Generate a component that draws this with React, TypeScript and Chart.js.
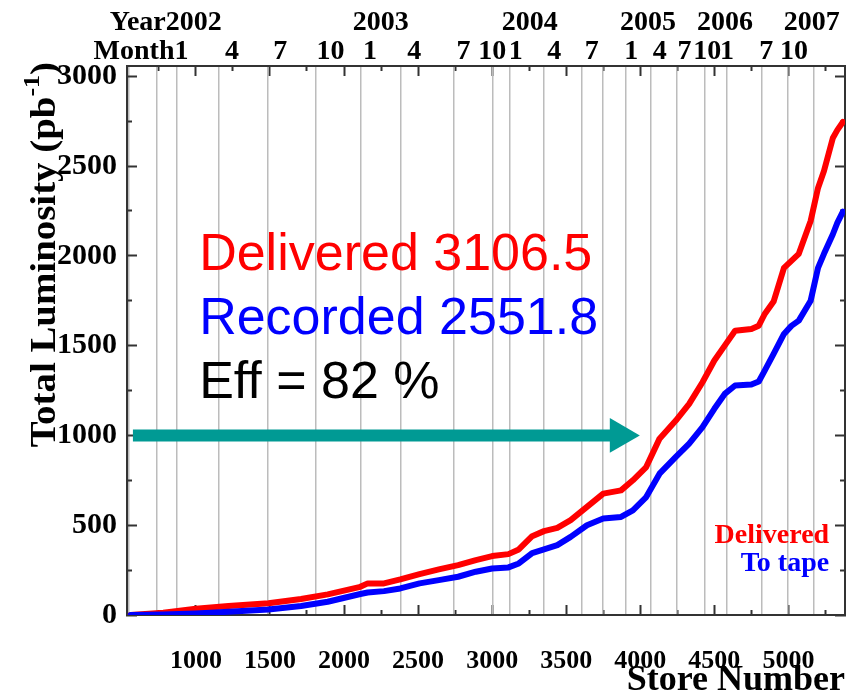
import React, { useEffect, useRef } from 'react';
import { Chart, registerables } from 'chart.js';

Chart.register(...registerables);

// ---- axis ranges ----
const X_MIN = 535;
const X_MAX = 5382;
const Y_MIN = 0;
const Y_MAX = 3057;

// ---- series (store number vs integrated luminosity, pb^-1) ----
const storeNumber = [560, 780, 1000, 1220, 1490, 1710, 1890, 2110, 2160, 2270, 2380, 2510, 2640, 2770, 2890, 3000, 3110, 3180, 3270, 3350, 3440, 3530, 3640, 3750, 3870, 3950, 4040, 4130, 4240, 4330, 4420, 4500, 4570, 4640, 4750, 4800, 4840, 4900, 4970, 5020, 5070, 5150, 5200, 5240, 5300, 5330, 5368];
const deliveredLum = [0, 13, 35, 50, 65, 89, 115, 157, 176, 176, 198, 228, 254, 278, 306, 328, 339, 365, 439, 467, 485, 528, 602, 676, 694, 750, 824, 982, 1083, 1176, 1296, 1417, 1500, 1583, 1593, 1611, 1676, 1745, 1933, 1972, 2011, 2194, 2378, 2472, 2656, 2700, 2745];
const recordedLum = [0, 3, 9, 18, 31, 50, 74, 117, 125, 133, 148, 176, 194, 213, 241, 259, 265, 287, 345, 365, 389, 435, 500, 537, 546, 583, 657, 787, 880, 954, 1046, 1148, 1231, 1278, 1283, 1300, 1361, 1454, 1565, 1610, 1639, 1750, 1933, 2011, 2120, 2183, 2246];

// ---- ticks ----
const xMajorTicks = [1000, 1500, 2000, 2500, 3000, 3500, 4000, 4500, 5000];
const xMinorTicks = [750, 1250, 1750, 2250, 2750, 3250, 3750, 4250, 4750, 5250];
const yMajorTicks = [0, 500, 1000, 1500, 2000, 2500, 3000];
const yMinorTicks = [250, 750, 1250, 1750, 2250, 2750];

// ---- calendar axis (top) ----
const monthGridStores = [550, 737, 870, 1156, 1482, 1809, 2115, 2381, 2741, 3007, 3120, 3347, 3607, 3746, 3899, 4072, 4245, 4438, 4585, 4818, 4998, 5171];
const monthLabels = ['Month1', '4', '7', '10', '1', '4', '7', '10', '1', '4', '7', '1', '4', '7', '10', '1', '7', '10'];
const monthStores = [630, 1243, 1569, 1909, 2175, 2474, 2807, 3000, 3160, 3420, 3673, 3939, 4132, 4299, 4452, 4585, 4851, 5038];
const yearLabels = ['Year2002', '2003', '2004', '2005', '2006', '2007'];
const yearStores = [797, 2248, 3253, 4052, 4572, 5158];

// ---- annotations ----
const arrowStore = [575, 3862];
const arrowLum = [1000, 1000];
const summaryLines = ['Delivered 3106.5', 'Recorded 2551.8', 'Eff = 82 %'];
const summaryColors = ['#ff0000', '#0000ff', '#000000'];
const summaryAnchor = [1022, 1921];
const legendLabels = ['Delivered', 'To tape'];
const legendColors = ['#ff0000', '#0000ff'];
const legendAnchor = [5275, 401];
const yTitleMain = 'Total Luminosity (pb';
const yTitleSup = '-1';
const yTitleClose = ')';

const SERIF = "'Liberation Serif', 'Times New Roman', serif";
const SANS = "'Liberation Sans', Arial, sans-serif";
const FRAME = '#333333';
const TEAL = '#009a94';

const fixTicks = (values: number[]) => (scale: any) => {
  scale.ticks = values.map((v) => ({ value: v }));
};

const overlayPlugin = {
  id: 'overlay',
  afterDatasetsDraw(chart: any) {
    const { ctx, scales } = chart;
    const x = scales.x;
    const y = scales.y;
    ctx.save();
    // summary text
    ctx.font = `52px ${SANS}`;
    ctx.textAlign = 'left';
    ctx.textBaseline = 'alphabetic';
    const sx = x.getPixelForValue(summaryAnchor[0]);
    const sy = y.getPixelForValue(summaryAnchor[1]);
    summaryLines.forEach((t, i) => {
      ctx.fillStyle = summaryColors[i];
      ctx.fillText(t, sx, sy + i * 64);
    });
    // in-plot legend
    ctx.font = `bold 28px ${SERIF}`;
    ctx.textAlign = 'right';
    const lx = x.getPixelForValue(legendAnchor[0]);
    const ly = y.getPixelForValue(legendAnchor[1]);
    legendLabels.forEach((t, i) => {
      ctx.fillStyle = legendColors[i];
      ctx.fillText(t, lx, ly + i * 28);
    });
    ctx.restore();
  },
  afterDraw(chart: any) {
    // y-axis title with a superscript, aligned to the top of the axis
    const { ctx, chartArea } = chart;
    ctx.save();
    ctx.font = `bold 36px ${SERIF}`;
    const w1 = ctx.measureText(yTitleMain).width;
    const w3 = ctx.measureText(yTitleClose).width;
    ctx.font = `bold 24px ${SERIF}`;
    const w2 = ctx.measureText(yTitleSup).width;
    const total = w1 + w2 + w3;
    const stretch = 1.08;
    const endY = chartArea.top - 4;
    ctx.translate(55, endY + total * stretch);
    ctx.rotate(-Math.PI / 2);
    ctx.scale(stretch, 1);
    ctx.fillStyle = '#000';
    ctx.textAlign = 'left';
    ctx.textBaseline = 'alphabetic';
    ctx.font = `bold 36px ${SERIF}`;
    ctx.fillText(yTitleMain, 0, 0);
    ctx.font = `bold 24px ${SERIF}`;
    ctx.fillText(yTitleSup, w1, -16);
    ctx.font = `bold 36px ${SERIF}`;
    ctx.fillText(yTitleClose, w1 + w2, 0);
    ctx.restore();
  },
};

export default function App() {
  const ref = useRef<HTMLCanvasElement>(null);

  useEffect(() => {
    if (!ref.current) return;
    const hidden = { display: false };
    const chart = new Chart(ref.current, {
      type: 'line',
      data: {
        datasets: [
          {
            label: 'Delivered',
            data: storeNumber.map((s, i) => ({ x: s, y: deliveredLum[i] })),
            borderColor: '#ff0000',
            backgroundColor: '#ff0000',
            borderWidth: 6,
            pointRadius: 0,
            tension: 0,
            borderJoinStyle: 'round',
            borderCapStyle: 'round',
            order: 2,
          },
          {
            label: 'To tape',
            data: storeNumber.map((s, i) => ({ x: s, y: recordedLum[i] })),
            borderColor: '#0000ff',
            backgroundColor: '#0000ff',
            borderWidth: 6,
            pointRadius: 0,
            tension: 0,
            borderJoinStyle: 'round',
            borderCapStyle: 'round',
            order: 1,
          },
          {
            label: 'arrow',
            data: arrowStore.map((s, i) => ({ x: s, y: arrowLum[i] })),
            borderColor: TEAL,
            backgroundColor: TEAL,
            borderWidth: 12,
            borderCapStyle: 'butt',
            pointRadius: [0, 20],
            pointHoverRadius: [0, 20],
            pointStyle: 'triangle',
            pointRotation: 90,
            pointBackgroundColor: TEAL,
            pointBorderColor: TEAL,
            pointBorderWidth: 0,
            tension: 0,
            order: 0,
          } as any,
        ],
      },
      options: {
        responsive: false,
        animation: false,
        devicePixelRatio: 1,
        events: [],
        layout: { padding: 0 },
        plugins: { legend: hidden, tooltip: { enabled: false }, title: hidden },
        scales: {
          x: {
            type: 'linear',
            position: 'bottom',
            weight: 1,
            min: X_MIN,
            max: X_MAX,
            afterBuildTicks: fixTicks(xMajorTicks),
            afterFit: (s: any) => { s.height = 79; },
            grid: { drawOnChartArea: false, tickLength: -10, tickWidth: 2, tickColor: FRAME },
            border: { display: true, color: FRAME, width: 2 },
            ticks: {
              autoSkip: false,
              maxRotation: 0,
              padding: 43,
              color: '#000',
              font: { family: SERIF, size: 26, weight: 'bold', lineHeight: 1 },
              callback: (v: any) => String(v),
            },
            title: {
              display: true,
              text: 'Store Number',
              align: 'end',
              color: '#000',
              font: { family: SERIF, size: 36, weight: 'bold', lineHeight: 1 },
              padding: { top: 0, bottom: -5 },
            },
          },
          xMinor: {
            type: 'linear',
            position: 'bottom',
            weight: 0,
            min: X_MIN,
            max: X_MAX,
            afterBuildTicks: fixTicks(xMinorTicks),
            afterFit: (s: any) => { s.height = 0; },
            grid: { drawOnChartArea: false, tickLength: -5, tickWidth: 2, tickColor: FRAME },
            border: { display: false },
            ticks: { display: false },
          },
          xTop: {
            type: 'linear',
            position: 'top',
            weight: 0,
            min: X_MIN,
            max: X_MAX,
            afterBuildTicks: fixTicks(xMajorTicks),
            afterFit: (s: any) => { s.height = 0; },
            grid: { drawOnChartArea: false, tickLength: -10, tickWidth: 2, tickColor: FRAME },
            border: { display: true, color: FRAME, width: 2 },
            ticks: { display: false },
          },
          xTopMinor: {
            type: 'linear',
            position: 'top',
            weight: -1,
            min: X_MIN,
            max: X_MAX,
            afterBuildTicks: fixTicks(xMinorTicks),
            afterFit: (s: any) => { s.height = 0; },
            grid: { drawOnChartArea: false, tickLength: -5, tickWidth: 2, tickColor: FRAME },
            border: { display: false },
            ticks: { display: false },
          },
          xGrid: {
            type: 'linear',
            position: 'top',
            weight: 0.5,
            min: X_MIN,
            max: X_MAX,
            afterBuildTicks: fixTicks(monthGridStores),
            afterFit: (s: any) => { s.height = 0; },
            grid: { drawOnChartArea: true, drawTicks: false, color: '#bcbcbc', lineWidth: 1.5 },
            border: { display: false },
            ticks: { display: false },
          },
          xMonth: {
            type: 'linear',
            position: 'top',
            weight: 1,
            min: X_MIN,
            max: X_MAX,
            afterBuildTicks: fixTicks(monthStores),
            afterFit: (s: any) => { s.height = 30; },
            grid: { display: false, drawTicks: false },
            border: { display: false },
            ticks: {
              autoSkip: false,
              maxRotation: 0,
              padding: 0,
              color: '#000',
              font: { family: SERIF, size: 28, weight: 'bold', lineHeight: 1 },
              callback: (_v: any, i: number) => monthLabels[i],
            },
          },
          xYear: {
            type: 'linear',
            position: 'top',
            weight: 2,
            min: X_MIN,
            max: X_MAX,
            afterBuildTicks: fixTicks(yearStores),
            afterFit: (s: any) => { s.height = 36; },
            grid: { display: false, drawTicks: false },
            border: { display: false },
            ticks: {
              autoSkip: false,
              maxRotation: 0,
              padding: -1,
              color: '#000',
              font: { family: SERIF, size: 28, weight: 'bold', lineHeight: 1 },
              callback: (_v: any, i: number) => yearLabels[i],
            },
          },
          y: {
            type: 'linear',
            position: 'left',
            weight: 1,
            min: Y_MIN,
            max: Y_MAX,
            afterBuildTicks: fixTicks(yMajorTicks),
            afterFit: (s: any) => { s.width = 127; },
            grid: { drawOnChartArea: false, tickLength: -10, tickWidth: 2, tickColor: FRAME },
            border: { display: true, color: FRAME, width: 2 },
            ticks: {
              padding: 20,
              color: '#000',
              font: { family: SERIF, size: 30, weight: 'bold' },
              callback: (v: any) => String(v),
            },
          },
          yMinor: {
            type: 'linear',
            position: 'left',
            weight: 0,
            min: Y_MIN,
            max: Y_MAX,
            afterBuildTicks: fixTicks(yMinorTicks),
            afterFit: (s: any) => { s.width = 0; },
            grid: { drawOnChartArea: false, tickLength: -5, tickWidth: 2, tickColor: FRAME },
            border: { display: false },
            ticks: { display: false },
          },
          yRight: {
            type: 'linear',
            position: 'right',
            weight: 1,
            min: Y_MIN,
            max: Y_MAX,
            afterBuildTicks: fixTicks(yMajorTicks),
            afterFit: (s: any) => { s.width = 11; },
            grid: { drawOnChartArea: false, tickLength: -10, tickWidth: 2, tickColor: FRAME },
            border: { display: true, color: FRAME, width: 2 },
            ticks: { display: false },
          },
          yRightMinor: {
            type: 'linear',
            position: 'right',
            weight: 0,
            min: Y_MIN,
            max: Y_MAX,
            afterBuildTicks: fixTicks(yMinorTicks),
            afterFit: (s: any) => { s.width = 0; },
            grid: { drawOnChartArea: false, tickLength: -5, tickWidth: 2, tickColor: FRAME },
            border: { display: false },
            ticks: { display: false },
          },
        },
      } as any,
      plugins: [overlayPlugin],
    });
    return () => chart.destroy();
  }, []);

  return (
    <div style={{ position: 'fixed', left: 0, top: 0, width: 865, height: 694, background: '#ffffff' }}>
      <canvas ref={ref} width={865} height={694} style={{ display: 'block', width: 865, height: 694 }} />
    </div>
  );
}
